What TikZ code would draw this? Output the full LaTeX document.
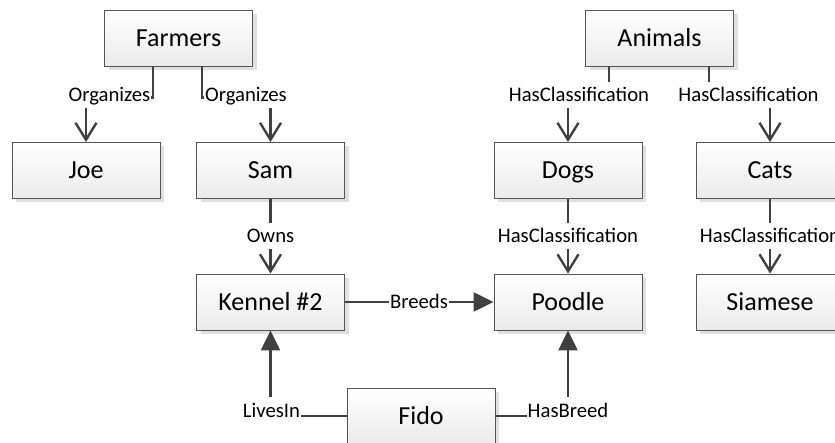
\documentclass[tikz,border=0pt]{standalone}
\usepackage{fontspec}
\setmainfont{Carlito}
\usetikzlibrary{arrows.meta,shadows}

\definecolor{edge}{HTML}{404040}
\definecolor{frame}{HTML}{555555}

\tikzset{
  entity/.style={draw=frame, line width=0.9pt, minimum width=148pt, minimum height=56pt,
    inner sep=0pt, text height=17pt, text depth=0pt, top color=white, bottom color=black!8,
    drop shadow={shadow xshift=4pt, shadow yshift=-4pt, fill=black!12, opacity=1},
    font=\fontsize{26}{30}\selectfont},
  link/.style={draw=edge, line width=2.4pt},
  openhead/.style={-{Straight Barb[length=17pt,width=21pt,line width=2.4pt]}},
  solidhead/.style={-{Triangle[length=20pt,width=19pt]}},
  rel/.style={fill=white, inner xsep=1pt, inner ysep=1pt, text height=19pt, text depth=5pt,
    anchor=base, font=\fontsize{20.7}{24}\selectfont, text=black}
}

\begin{document}
\begin{tikzpicture}[x=1pt, y=-1pt]
  \useasboundingbox (0,0) rectangle (835,443);

  % entities
  \node[entity] (farmers) at (178.5,38)  {Farmers};
  \node[entity] (joe)     at (86,170.5)  {Joe};
  \node[entity] (sam)     at (270.5,170.5) {Sam};
  \node[entity] (animals) at (659.5,38)  {Animals};
  \node[entity] (dogs)    at (568,170.5) {Dogs};
  \node[entity] (cats)    at (770,170.5) {Cats};
  \node[entity] (kennel)  at (270.5,302) {Kennel \#2};
  \node[entity] (poodle)  at (568,302)   {Poodle};
  \node[entity] (siamese) at (770,302)   {Siamese};
  \node[entity] (fido)    at (421,416)   {Fido};

  % hierarchy connectors
  \draw[link, openhead] ([xshift=-25.5pt]farmers.south) -- ++(0,31) -| (joe.north);
  \draw[link, openhead] ([xshift=23.5pt]farmers.south) -- ++(0,31) -| (sam.north);
  \draw[link, openhead] ([xshift=-50.5pt]animals.south) -- ++(0,31) -| (dogs.north);
  \draw[link, openhead] ([xshift=49.5pt]animals.south) -- ++(0,31) -| (cats.north);
  \draw[link, openhead] (sam.south) -- (kennel.north);
  \draw[link, openhead] (dogs.south) -- (poodle.north);
  \draw[link, openhead] (cats.south) -- (siamese.north);

  % relation connectors
  \draw[link, solidhead] (kennel.east) -- (poodle.west);
  \draw[link, solidhead] (fido.west) -| (kennel.south);
  \draw[link, solidhead] (fido.east) -| (poodle.south);

  % relation labels
  \node[rel] (lorg1) at (109.5,102) {Organizes};
  \node[rel] (lorg2) at (246,102)   {Organizes};
  \node[rel] (lcls1) at (579,102)   {HasClassification};
  \node[rel] (lcls2) at (748.5,102) {HasClassification};
  \node[rel] (lowns) at (270.5,243) {Owns};
  \node[rel] (lcls3) at (568,243)   {HasClassification};
  \node[rel] (lcls4) at (770,243)   {HasClassification};
  \node[rel] (lbrd)  at (419,309)   {Breeds};
  \node[rel] (llive) at (271.5,417) {LivesIn};
  \node[rel] (lhasb) at (568,417)   {HasBreed};
\end{tikzpicture}
\end{document}
